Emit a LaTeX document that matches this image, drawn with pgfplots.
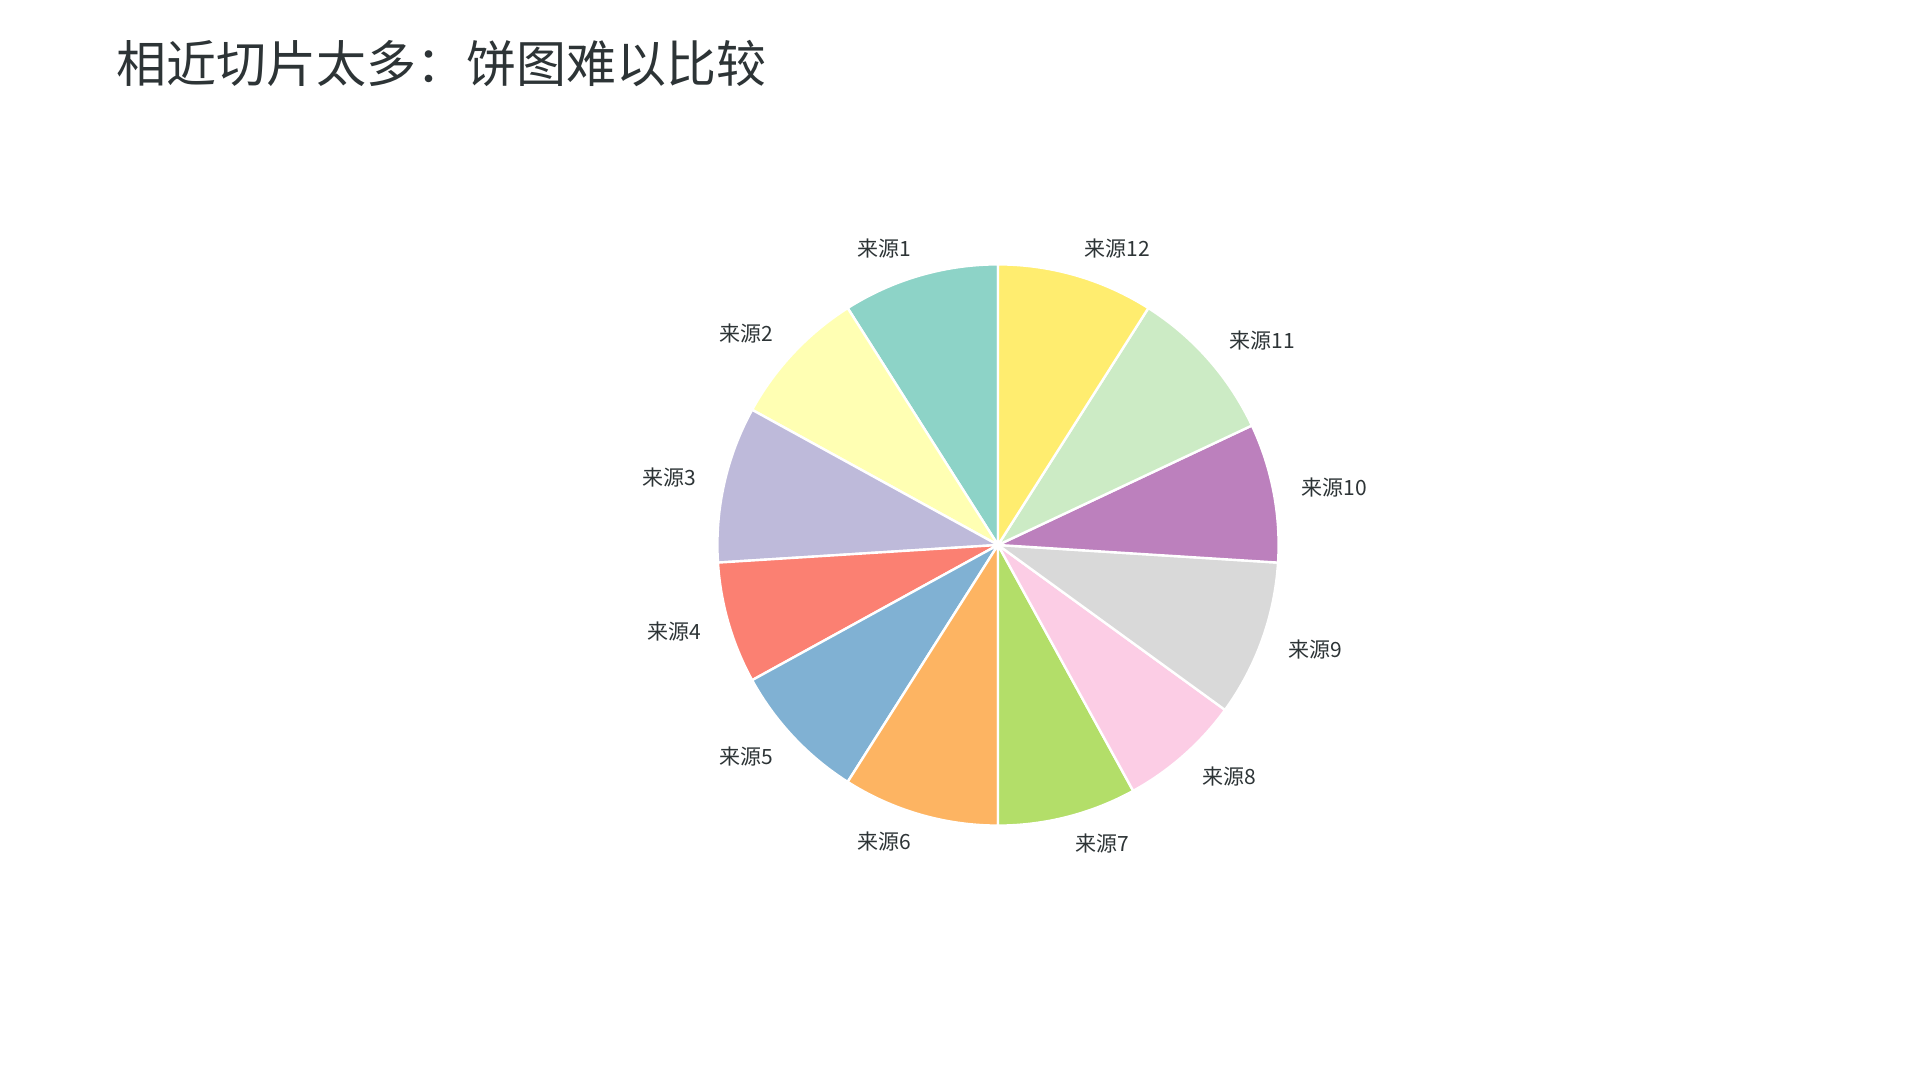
\documentclass[border=0pt]{standalone}
\usepackage{pgfplots}
\pgfplotsset{compat=1.18}
\usepackage{pgfplotstable}
\usetikzlibrary{calc}
\usepackage{fontspec}
\setmainfont{Noto Sans CJK SC}

\definecolor{c0}{HTML}{8DD3C7}
\definecolor{c1}{HTML}{FFFFB3}
\definecolor{c2}{HTML}{BEBADA}
\definecolor{c3}{HTML}{FB8072}
\definecolor{c4}{HTML}{80B1D3}
\definecolor{c5}{HTML}{FDB462}
\definecolor{c6}{HTML}{B3DE69}
\definecolor{c7}{HTML}{FCCDE5}
\definecolor{c8}{HTML}{D9D9D9}
\definecolor{c9}{HTML}{BC80BD}
\definecolor{c10}{HTML}{CCEBC5}
\definecolor{c11}{HTML}{FFED6F}
\definecolor{txt}{HTML}{2D3436}

% share of each source, percent
\pgfplotstableread{
src value
1 9
2 8
3 9
4 7
5 8
6 9
7 8
8 7
9 9
10 8
11 9
12 9
}\sources

\begin{document}
\begin{tikzpicture}
\path[use as bounding box] (0,0) rectangle (960pt,540pt);
% axis units are pixels of a 1920x1080 canvas, 1px = 0.5pt
\begin{axis}[
    at={(0,0)}, anchor=south west,
    width=960pt, height=540pt, scale only axis,
    xmin=0, xmax=1920, ymin=0, ymax=1080,
    hide axis, clip=false,
]
\def\cx{998}\def\cy{535}
\def\R{140.3pt}\def\RL{154.3pt}
\pgfmathsetmacro{\acc}{90}
\pgfplotsforeachungrouped \i in {0,...,11}{%
    \pgfplotstablegetelem{\i}{value}\of\sources
    \pgfmathsetmacro{\a}{\acc}%
    \pgfmathsetmacro{\b}{\acc+3.6*\pgfplotsretval}%
    \pgfmathsetmacro{\m}{(\a+\b)/2}%
    \pgfmathtruncatemacro{\j}{\i+1}%
    \pgfmathparse{cos(\m)<0 ? "east" : "west"}\let\anc\pgfmathresult
    \edef\cmd{%
      \noexpand\fill[fill=c\i, draw=white, line width=1.2pt, line join=round]
        (axis cs:\cx,\cy) -- ++(\a:\R) arc[start angle=\a, end angle=\b, radius=\R] -- cycle;
      \noexpand\node[anchor=\anc, font=\noexpand\fontsize{10.5}{12}\noexpand\selectfont, text=txt, inner sep=0pt]
        at ($(axis cs:\cx,\cy)+(\m:\RL)$) {来源\j};
    }\cmd
    \global\let\acc\b
}
\node[anchor=west, text=txt, inner sep=0pt, font=\fontsize{25}{28}\selectfont]
    at (axis cs:116,1016) {相近切片太多：饼图难以比较};
\end{axis}
\end{tikzpicture}
\end{document}
